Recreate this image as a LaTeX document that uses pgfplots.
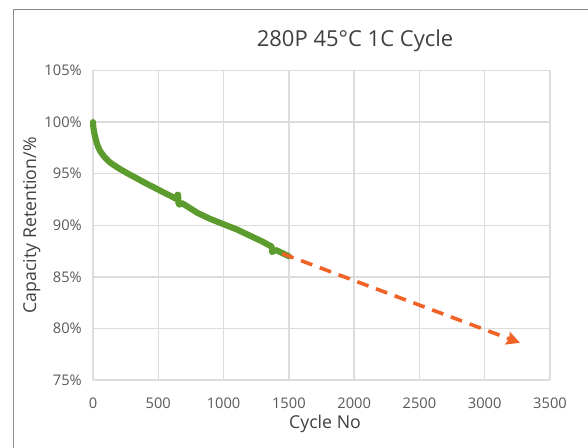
\documentclass[border=0pt]{standalone}
\usepackage{pgfplots}
\pgfplotsset{compat=1.18}
\usepackage{fontspec}
\setmainfont{Open Sans}
\usetikzlibrary{arrows.meta}
\definecolor{cgreen}{RGB}{92,156,46}
\definecolor{corange}{RGB}{240,98,38}
\definecolor{cgrid}{RGB}{220,220,220}
\definecolor{ctext}{RGB}{89,89,89}
\definecolor{ctitle}{RGB}{64,64,64}
\definecolor{cframe}{RGB}{140,140,140}
\begin{document}
\begin{tikzpicture}
\path[use as bounding box] (0,0) rectangle (441pt,336pt);
\draw[cframe, line width=0.75pt] (9.75pt,0pt) -- (9.75pt,328.5pt) -- (441pt,328.5pt);
\begin{axis}[
  at={(69.75pt,51pt)}, anchor=south west,
  scale only axis, width=342.75pt, height=232.125pt,
  xmin=0, xmax=3500, ymin=75, ymax=105,
  xtick={0,500,...,3500}, ytick={75,80,...,105},
  yticklabel={\pgfmathprintnumber{\tick}\%},
  /pgf/number format/assume math mode=true,
  /pgf/number format/1000 sep={},
  grid=major, major grid style={cgrid, line width=1.1pt},
  axis line style={draw=none}, tick style={draw=none},
  major tick length=0pt,
  every x tick label/.append style={font=\fontsize{11}{13}\selectfont, text=ctext, anchor=base, inner sep=0pt, yshift=-21.4pt},
  every y tick label/.append style={font=\fontsize{11}{13}\selectfont, text=ctext, anchor=east, inner sep=0pt, xshift=-8.25pt},
  clip=false,
]
\addplot[cgreen, line width=4.6pt, line join=round, line cap=round] coordinates {
(0,100) (2,99.6) (5,99.3) (9,99.0) (13,98.75) (19,98.45) (25,98.15) (31,97.9) (38,97.65)
(48,97.35) (60,97.1) (74,96.85) (89,96.6) (105,96.4) (120,96.2) (140,96.0) (166,95.78)
(190,95.58) (220,95.35) (245,95.17) (268,95.0) (295,94.82) (320,94.65) (345,94.48) (370,94.3)
(400,94.1) (430,93.9) (465,93.68) (500,93.45) (535,93.22) (570,93.0) (605,92.77) (638,92.55)
(647,92.95) (652,92.95) (655,92.1) (662,92.0) (680,92.15) (700,92.0) (750,91.6) (800,91.2)
(850,90.9) (900,90.6) (950,90.35) (1000,90.1) (1050,89.85) (1100,89.6) (1150,89.3)
(1200,89.0) (1250,88.7) (1300,88.4) (1350,88.05) (1368,87.95) (1372,87.4) (1385,87.5)
(1400,87.6) (1450,87.3) (1500,87.0)
};
\addplot[corange, line width=2.7pt, dash pattern=on 9pt off 6pt,
  -{Stealth[length=10pt, width=10pt, inset=1.5pt]}] coordinates {
(1450,87.25) (3270,78.6)
};
\end{axis}
\node[anchor=base, text=ctitle, font=\fontsize{16.5}{19}\selectfont] at (266.25pt,301pt) {280P 45°C 1C Cycle};
\node[anchor=base, text=ctitle, font=\fontsize{13.3}{16}\selectfont] at (243.75pt,14.25pt) {Cycle No};
\node[anchor=base, rotate=90, text=ctitle, font=\fontsize{13.3}{16}\selectfont] at (27pt,167pt) {Capacity Retention/\%};
\end{tikzpicture}
\end{document}
